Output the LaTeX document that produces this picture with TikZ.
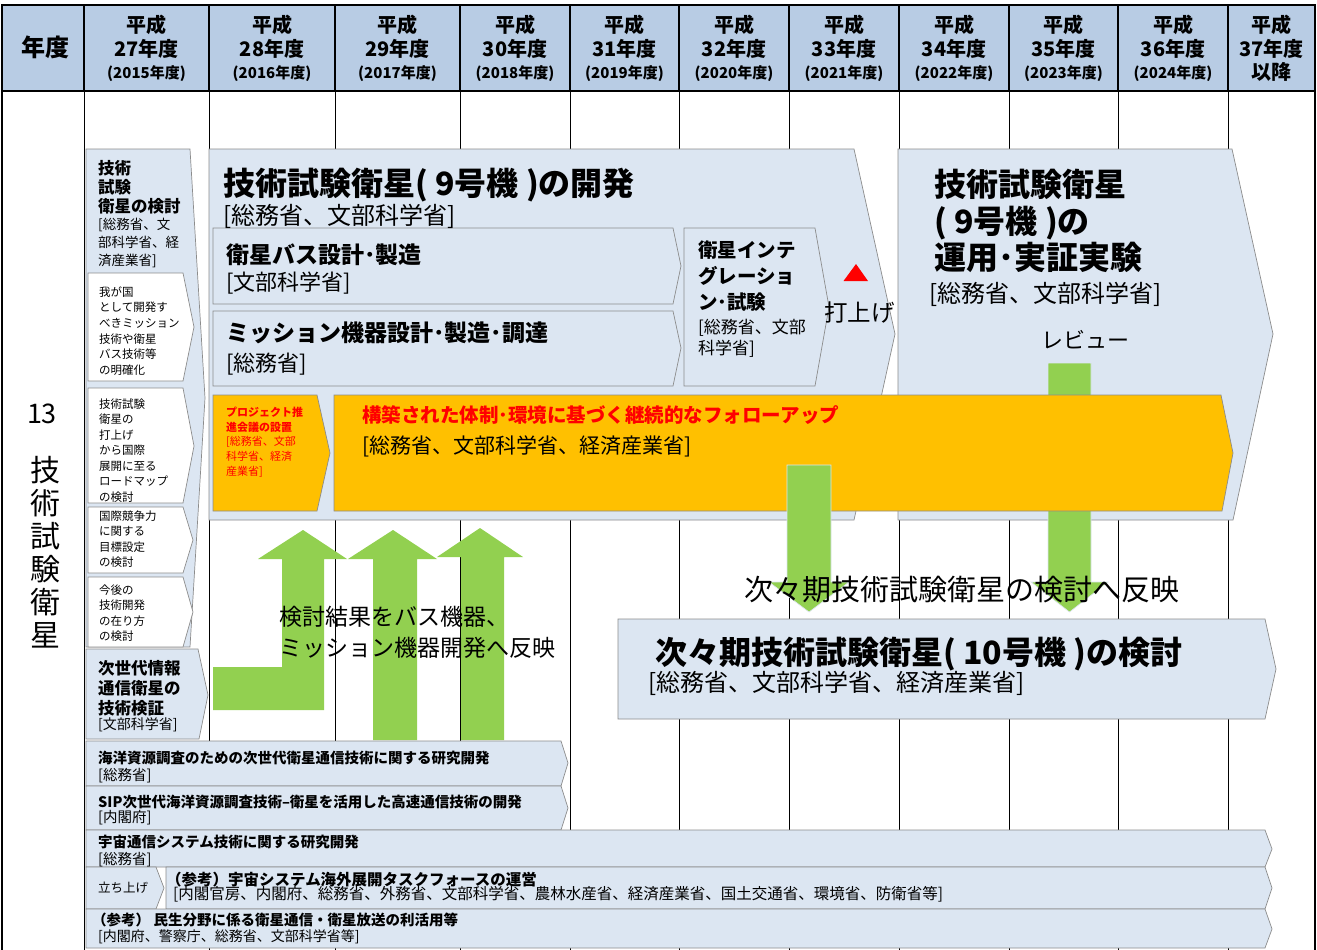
\documentclass[tikz,border=0pt]{standalone}
\usepackage{fontspec}
\setmainfont{Noto Sans CJK JP}
\newcommand\myfs[2]{\fontsize{#1}{#2}\selectfont}
\definecolor{hdr}{HTML}{B8CCE4}
\definecolor{lb}{HTML}{DCE6F2}
\definecolor{bd}{HTML}{8C8C8C}
\definecolor{grn}{HTML}{92D050}
\definecolor{org}{HTML}{FFC000}
\definecolor{rd}{HTML}{FF0000}
\begin{document}
\begin{tikzpicture}[x=1pt,y=-1pt,
 shp/.style={fill=lb,draw=bd,line width=0.7pt},
 wch/.style={fill=white,draw=bd,line width=0.7pt},
 osh/.style={fill=org,draw=bd,line width=0.7pt},
 garr/.style={fill=grn,draw=lb,line width=0.6pt},
 gridln/.style={draw=black,line width=0.9pt},
 hdrln/.style={draw=black,line width=1.4pt},
 tl/.style={inner sep=0pt,anchor=north west,align=left},
 bl/.style={inner sep=0pt,anchor=base west},
 bc/.style={inner sep=0pt,anchor=base},
]
\useasboundingbox (0,0) rectangle (1317,950);
\fill[white] (0,0) rectangle (1317,950);
% header
\fill[hdr] (2,5) rectangle (1315,91);
\foreach \x in {84,209,335,460,570,679,789,899,1009,1118,1228}
  \draw[gridln] (\x,91) -- (\x,950);
\foreach \x in {84,209,335,460,570,679,789,899,1009,1118,1228}
  \draw[hdrln] (\x,5) -- (\x,91);
\draw[hdrln] (2,950) -- (2,5) -- (1315,5) -- (1315,950);
\draw[hdrln] (2,91) -- (1315,91);

\node[bc,font=\bfseries\myfs{24}{28}] (hY) at (45,56.1) {年度};
\foreach \cx/\n/\yr [count=\i] in {146.5/27/2015,272/28/2016,397.5/29/2017,515/30/2018,624.5/31/2019,734/32/2020,844/33/2021,954/34/2022,1063.5/35/2023,1173/36/2024}{
  \node[bc,font=\bfseries\myfs{20}{24}] (hA\i) at (\cx,32.6) {平成};
  \node[bc,font=\bfseries\myfs{20}{24}] (hB\i) at (\cx,56.6) {{\n}年度};
  \node[bc,font=\bfseries\myfs{15}{18}] (hC\i) at (\cx,78.7) {({\yr}年度)};
}
\node[bc,font=\bfseries\myfs{20}{24}] (hA11) at (1271.5,32.6) {平成};
\node[bc,font=\bfseries\myfs{20}{24}] (hB11) at (1271.5,56.6) {37年度};
\node[bc,font=\bfseries\myfs{20}{24}] (hC11) at (1271.5,79.6) {以降};

% left label column
\node[bc,font=\myfs{27}{32}] (n13) at (42,423.3) {13};
\foreach \ch [count=\i] in {技,術,試,験,衛,星}
  \node[bc,font=\myfs{30}{36}] (v\i) at (45,{481.4+33*(\i-1)}) {\ch};

% left study shape
\path[shp] (86,149) -- (190,149) -- (205,398) -- (190,647) -- (86,647) -- cycle;
\path[wch] (88,273) -- (183,273) -- (194,327) -- (183,381) -- (88,381) -- cycle;
\path[wch] (88,388) -- (183,388) -- (194,446) -- (183,503) -- (88,503) -- cycle;
\path[wch] (88,507) -- (183,507) -- (193,540) -- (183,573) -- (88,573) -- cycle;
\path[wch] (88,577) -- (183,577) -- (193,612) -- (183,647) -- (88,647) -- cycle;
\path[shp] (86,649) -- (198,649) -- (208,695) -- (199,739) -- (86,739) -- cycle;

\node[tl,font=\bfseries\myfs{16.5}{19}] (lk1) at (98,159.75) {技術\\試験\\衛星の検討};
\node[tl,font=\myfs{13.5}{18}] (lk2) at (98,218.25) {[総務省、文\\部科学省、経\\済産業省]};
\node[tl,font=\myfs{11.5}{15.7}] (ca) at (99,286.25) {我が国\\として開発す\\べきミッション\\技術や衛星\\バス技術等\\の明確化};
\node[tl,font=\myfs{11.5}{15.5}] (cb) at (99,398.25) {技術試験\\衛星の\\打上げ\\から国際\\展開に至る\\ロードマップ\\の検討};
\node[tl,font=\myfs{11.5}{15.5}] (cc) at (99,510.25) {国際競争力\\に関する\\目標設定\\の検討};
\node[tl,font=\myfs{11.5}{15.5}] (cd) at (99,584.25) {今後の\\技術開発\\の在り方\\の検討};
\node[tl,font=\bfseries\myfs{16.5}{20}] (ns1) at (98,659.75) {次世代情報\\通信衛星の\\技術検証};
\node[bl,font=\myfs{14}{17}] (ns2) at (98,729.3) {[文部科学省]};

% development
\path[shp] (209,149) -- (854,149) -- (895,334) -- (854,520) -- (209,520) -- cycle;
\path[shp] (898,149) -- (1232,149) -- (1273,334) -- (1233,520) -- (898,520) -- cycle;
\path[shp] (213,228) -- (673,228) -- (681,266) -- (673,304) -- (213,304) -- cycle;
\path[shp] (213,311) -- (673,311) -- (681,348) -- (673,386) -- (213,386) -- cycle;
\path[shp] (684,228) -- (815,228) -- (829,307) -- (815,386) -- (684,386) -- cycle;

\node[bl,font=\bfseries\myfs{32}{36}] (dv1) at (223,195.2) {技術試験衛星( 9号機 )の開発};
\node[bl,font=\myfs{24}{28}] (dv2) at (223,224.1) {[総務省、文部科学省]};
\node[bl,font=\bfseries\myfs{23}{27}] (sb1) at (226,263.7) {衛星バス設計･製造};
\node[bl,font=\myfs{22}{26}] (sb2) at (226,290.4) {[文部科学省]};
\node[bl,font=\bfseries\myfs{23}{27}] (ms1) at (226,341.7) {ミッション機器設計･製造･調達};
\node[bl,font=\myfs{22}{26}] (ms2) at (226,371.4) {[総務省]};
\node[tl,font=\bfseries\myfs{19.5}{26}] (ig1) at (698,240.25) {衛星インテ\\グレーショ\\ン･試験};
\node[tl,font=\myfs{17}{21}] (ig2) at (698,318.5) {[総務省、文部\\科学省]};
\node[tl,font=\bfseries\myfs{32}{36.5}] (op1) at (934,169) {技術試験衛星\\( 9号機 )の\\運用･実証実験};
\node[bl,font=\myfs{24}{28}] (op2) at (929,302.1) {[総務省、文部科学省]};
\node[bl,font=\myfs{23.5}{28}] (launch) at (824,321.9) {打上げ};
\node[bc,font=\myfs{22}{26}] (review) at (1085,348.4) {レビュー};
\path[fill=rd] (843.5,281) -- (868,281) -- (856,264) -- cycle;

% green arrow 2 (below orange)
\path[garr] (1048,363) -- (1091,363) -- (1091,582) -- (1108,582) -- (1069.5,612) -- (1031,582) -- (1048,582) -- cycle;

% orange
\path[osh] (213,395) -- (317,395) -- (330,453) -- (317,511) -- (213,511) -- cycle;
\path[osh] (334,395) -- (1221,395) -- (1233,453) -- (1222,511) -- (334,511) -- cycle;
\node[tl,text=rd,font=\bfseries\myfs{11}{15}] (pj1) at (226,406.5) {プロジェクト推\\進会議の設置};
\node[tl,text=rd,font=\myfs{11}{15}] (pj2) at (226,436.5) {[総務省、文部\\科学省、経済\\産業省]};
\node[bl,text=rd,font=\bfseries\myfs{19.5}{23}] (fu1) at (362,422.4) {構築された体制･環境に基づく継続的なフォローアップ};
\node[bl,font=\myfs{21}{25}] (fu2) at (362,453) {[総務省、文部科学省、経済産業省]};

% green arrow 1 (above orange)
\path[garr] (787,465) -- (831,465) -- (831,582) -- (849,582) -- (809,612) -- (769,582) -- (787,582) -- cycle;

% green up arrows
\path[fill=grn] (213,667) -- (282,667) -- (282,559) -- (258,559) -- (303,530) -- (347,559) -- (324,559) -- (324,710) -- (213,710) -- cycle;
\path[fill=grn] (373,740) -- (373,559) -- (348,559) -- (393,530) -- (437,559) -- (417,559) -- (417,740) -- cycle;
\path[fill=grn] (461,740) -- (461,557) -- (437,557) -- (480,528) -- (523,557) -- (504,557) -- (504,740) -- cycle;

\node[tl,font=\myfs{23}{31}] (kk) at (279,605.5) {検討結果をバス機器、\\ミッション機器開発へ反映};
\node[bl,font=\myfs{29}{33}] (hanei) at (744,600) {次々期技術試験衛星の検討へ反映};

% next-next satellite
\path[shp] (618,619) -- (1265,619) -- (1276,669) -- (1265,719) -- (618,719) -- cycle;
\node[bl,font=\bfseries\myfs{32}{36}] (nx1) at (655,664.2) {次々期技術試験衛星( 10号機 )の検討};
\node[bl,font=\myfs{24}{28}] (nx2) at (648,691.1) {[総務省、文部科学省、経済産業省]};

% bottom rows
\path[shp] (86,741) -- (561,741) -- (568,763) -- (561,786) -- (86,786) -- cycle;
\path[shp] (86,786) -- (561,786) -- (568,808) -- (561,830) -- (86,830) -- cycle;
\path[shp] (86,830) -- (1265,830) -- (1272,849) -- (1265,867) -- (86,867) -- cycle;
\path[shp] (86,867) -- (156,867) -- (164,888) -- (156,909) -- (86,909) -- cycle;
\path[shp] (166,867) -- (1265,867) -- (1272,888) -- (1265,909) -- (166,909) -- cycle;
\path[shp] (86,909) -- (1265,909) -- (1272,929) -- (1265,948) -- (86,948) -- cycle;

\node[bl,font=\bfseries\myfs{14.5}{17}] (r1a) at (98,763.5) {海洋資源調査のための次世代衛星通信技術に関する研究開発};
\node[bl,font=\myfs{14.5}{17}] (r1b) at (98,780.5) {[総務省]};
\node[bl,font=\bfseries\myfs{14.5}{17}] (r2a) at (98,807.5) {SIP次世代海洋資源調査技術–衛星を活用した高速通信技術の開発};
\node[bl,font=\myfs{14.5}{17}] (r2b) at (98,822.5) {[内閣府]};
\node[bl,font=\bfseries\myfs{14.5}{17}] (r3a) at (98,847.5) {宇宙通信システム技術に関する研究開発};
\node[bl,font=\myfs{14.5}{17}] (r3b) at (98,864.5) {[総務省]};
\node[bl,font=\myfs{12.5}{15}] (r4s) at (98,892.6) {立ち上げ};
\node[bl,font=\bfseries\myfs{15.5}{18}] (r4a) at (166,885.9) {（参考）宇宙システム海外展開タスクフォースの運営};
\node[bl,font=\myfs{15.5}{18}] (r4b) at (173,899.9) {[内閣官房、内閣府、総務省、外務省、文部科学省、農林水産省、経済産業省、国土交通省、環境省、防衛省等]};
\node[bl,font=\bfseries\myfs{14.5}{17}] (r5a) at (92,925.5) {（参考） 民生分野に係る衛星通信・衛星放送の利活用等};
\node[bl,font=\myfs{14}{17}] (r5b) at (98,941.3) {[内閣府、警察庁、総務省、文部科学省等]};
\end{tikzpicture}
\end{document}
